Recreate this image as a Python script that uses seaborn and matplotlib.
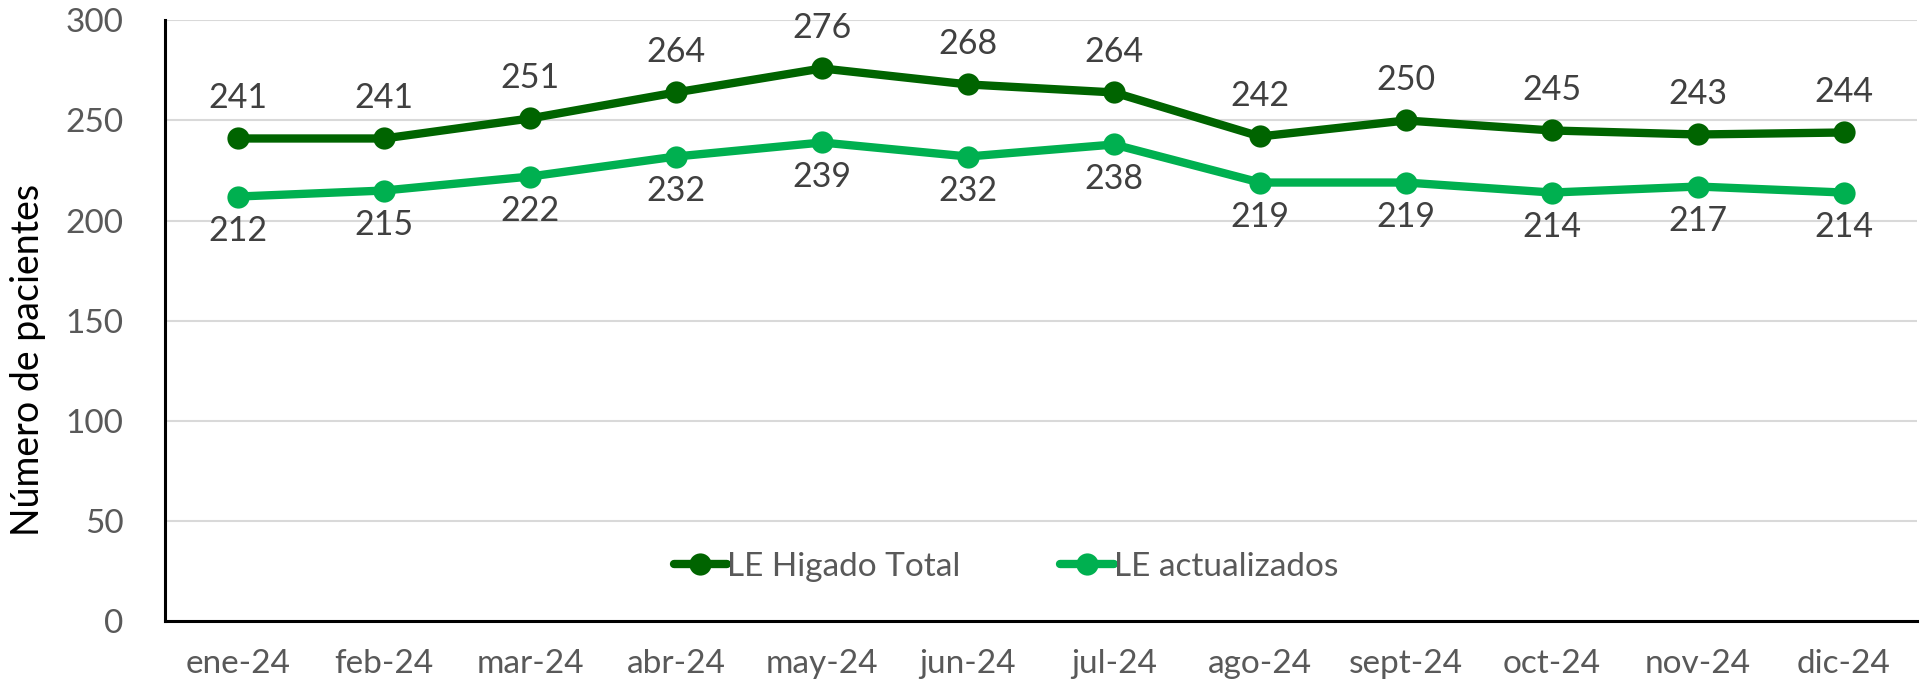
import matplotlib
matplotlib.use("Agg")
import matplotlib.pyplot as plt
import seaborn as sns
import pandas as pd

months = ["ene-24", "feb-24", "mar-24", "abr-24", "may-24", "jun-24",
          "jul-24", "ago-24", "sept-24", "oct-24", "nov-24", "dic-24"]
total = [241, 241, 251, 264, 276, 268, 264, 242, 250, 245, 243, 244]
actualizados = [212, 215, 222, 232, 239, 232, 238, 219, 219, 214, 217, 214]
series_names = ["LE Higado Total", "LE actualizados"]
colors = ["#006400", "#00B050"]

sns.set_theme(style="white")
plt.rcParams['font.family'] = ['Lato', 'DejaVu Sans']

df = pd.DataFrame({
    "mes": months * 2,
    "valor": total + actualizados,
    "serie": [series_names[0]] * len(months) + [series_names[1]] * len(months),
})
df["x"] = list(range(len(months))) * 2

fig = plt.figure(figsize=(19.21, 6.88), dpi=100)
ax = fig.add_axes([0.0859, 0.0974, 0.912, 0.873])

sns.lineplot(data=df, x="x", y="valor", hue="serie", palette=colors,
             hue_order=series_names, linewidth=6, marker="o", markersize=16,
             markeredgewidth=0, ax=ax, legend=True, sort=False)

ax.set_xlim(-0.5, len(months) - 0.5)
ax.set_ylim(0, 300)
ax.set_yticks([0, 50, 100, 150, 200, 250, 300])
ax.set_xticks(range(len(months)))
ax.set_xticklabels(months)
ax.grid(axis="y", color="#D9D9D9", linewidth=1.5)
ax.set_axisbelow(True)
for s in ["top", "right"]:
    ax.spines[s].set_visible(False)
for s in ["left", "bottom"]:
    ax.spines[s].set_color("black")
    ax.spines[s].set_linewidth(2.2)
ax.tick_params(axis="both", length=0, labelsize=24, labelcolor="#595959")
ax.tick_params(axis="y", pad=30)
ax.tick_params(axis="x", pad=20)
ax.set_xlabel("")
ax.set_ylabel("Número de pacientes", fontsize=27, color="black", labelpad=12)
ax.yaxis.set_label_coords(-0.068, 0.435)

for i, v in enumerate(total):
    ax.annotate(str(v), (i, v), xytext=(0, 29), textcoords="offset points",
                ha="center", va="center", fontsize=24.5, color="#404040")
for i, v in enumerate(actualizados):
    ax.annotate(str(v), (i, v), xytext=(0, -25), textcoords="offset points",
                ha="center", va="center", fontsize=24.5, color="#404040")

leg = ax.legend(loc="center", bbox_to_anchor=(0.48, 0.09), ncol=2, frameon=False,
                fontsize=24, handlelength=1.6, handletextpad=0.0, columnspacing=3.0)
for t in leg.get_texts():
    t.set_color("#595959")

fig.savefig("out.png", dpi=100)
